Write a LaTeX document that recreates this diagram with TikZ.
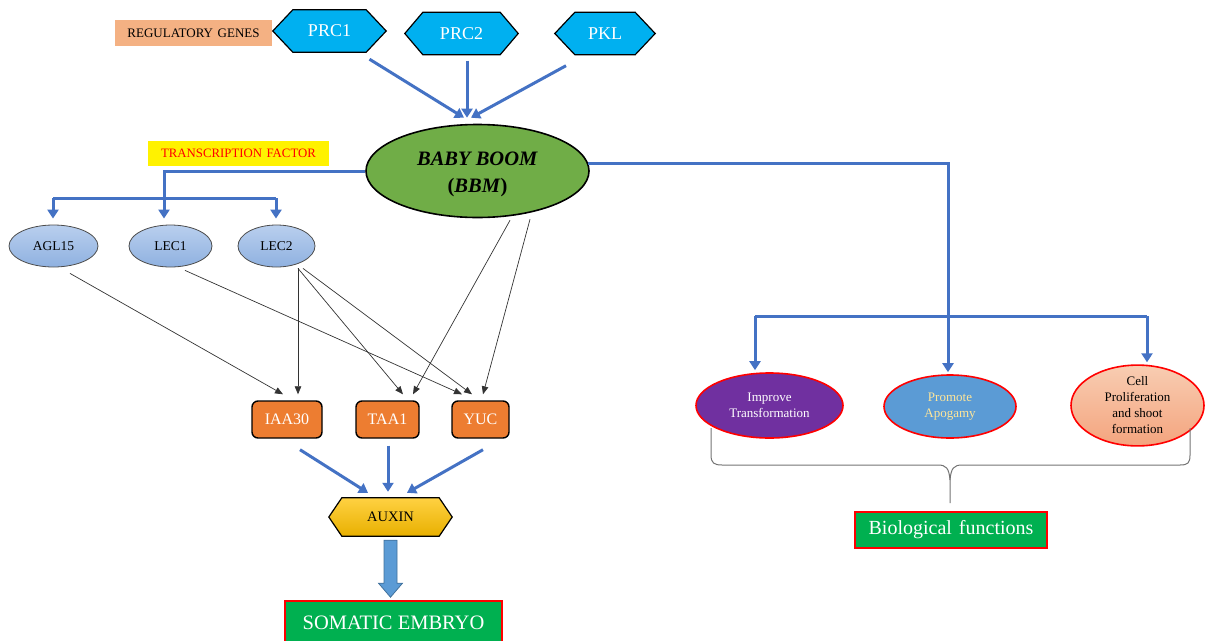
\documentclass[tikz,border=0pt]{standalone}
\usepackage{fontspec}
\setmainfont{Liberation Serif}
\usetikzlibrary{arrows.meta,calc,shapes.geometric}
\pgfdeclarelayer{background}
\pgfsetlayers{background,main}
\definecolor{hexblue}{HTML}{00B0F0}
\definecolor{arrblue}{HTML}{4472C4}
\definecolor{bbmgreen}{HTML}{70AD47}
\definecolor{salmon}{HTML}{F4B183}
\definecolor{orng}{HTML}{ED7D31}
\definecolor{grn}{HTML}{00B050}
\definecolor{purp}{HTML}{7030A0}
\definecolor{midblue}{HTML}{5B9BD5}
\definecolor{darkblue}{HTML}{41719C}
\definecolor{paleyel}{HTML}{FFE699}
\definecolor{lbtop}{HTML}{B9CFEE}
\definecolor{lbbot}{HTML}{8FB1E0}
\definecolor{autop}{HTML}{FFD142}
\definecolor{aubot}{HTML}{E8B000}
\definecolor{satop}{HTML}{F8CDB2}
\definecolor{sabot}{HTML}{F4A47E}
\newcommand\hexbg[3]{%
  \path[#3] (#1.west) -- ([xshift=#2]#1.north west) -- ([xshift=-#2]#1.north east)
    -- (#1.east) -- ([xshift=-#2]#1.south east) -- ([xshift=#2]#1.south west) -- cycle;}
\begin{document}
\begin{tikzpicture}[x=1pt,y=-1pt,
  hexnode/.style={rectangle, minimum height=42pt, inner sep=0pt, text=white,
    font=\fontsize{18}{20}\selectfont},
  regbox/.style={rectangle, fill=salmon, minimum width=157pt, minimum height=26pt,
    inner sep=0pt, font=\fontsize{13}{15}\selectfont},
  tfbox/.style={rectangle, fill=yellow, text=red, minimum width=181pt, minimum height=25pt,
    inner sep=0pt, font=\fontsize{12.8}{15}\selectfont},
  bbmnode/.style={ellipse, draw=black, line width=1.6pt, fill=bbmgreen,
    minimum width=223pt, minimum height=93pt, inner sep=0pt, align=center,
    font=\fontsize{20.5}{27}\selectfont},
  tfnode/.style={ellipse, draw=black!70, line width=0.8pt, top color=lbtop, bottom color=lbbot,
    minimum height=42pt, inner sep=0pt, font=\fontsize{13.5}{15}\selectfont},
  genebox/.style={rectangle, rounded corners=6pt, draw=black, line width=1.4pt, fill=orng,
    text=white, minimum height=37pt, inner sep=0pt, font=\fontsize{16}{18}\selectfont},
  auxnode/.style={rectangle, minimum width=123pt, minimum height=38pt, inner sep=0pt,
    font=\fontsize{14.5}{16}\selectfont},
  greenbox/.style={rectangle, draw=red, line width=1.6pt, fill=grn, text=white, inner sep=0pt},
  funcnode/.style={ellipse, draw=red, line width=1.6pt, inner sep=0pt, align=center,
    font=\fontsize{13}{16}\selectfont},
  bline/.style={draw=arrblue, line width=3pt},
  barrow/.style={draw=arrblue, line width=3pt, -{Triangle[length=9pt,width=11pt]}},
  tarrow/.style={draw=black!80, line width=0.7pt, -{Triangle[length=8pt,width=6.5pt]}},
  bigarrow/.style={draw=darkblue, line width=0.8pt, fill=midblue},
  brace/.style={draw=black!55, line width=1pt}
]
\useasboundingbox (0,0) rectangle (1206,640);

% top row
\node[regbox] (reg) at (193.5,33) {REGULATORY\hspace{0.35em}GENES};
\node[hexnode, minimum width=113pt] (prc1) at (329.5,31) {PRC1};
\node[hexnode, minimum width=113pt] (prc2) at (461.5,33.5) {PRC2};
\node[hexnode, minimum width=100pt] (pkl) at (605,33.5) {PKL};

% BBM
\node[bbmnode] (bbm) at (477.5,171) {\rule{0pt}{20pt}\textbf{\textit{BABY BOOM}}\\\textbf{(\textit{BBM})}};
\node[tfbox] (tf) at (238.5,153.5) {TRANSCRIPTION\hspace{0.35em}FACTOR};

% transcription factors
\node[tfnode, minimum width=89pt] (agl) at (53.5,246) {AGL15};
\node[tfnode, minimum width=83pt] (lec1) at (170.5,246) {LEC1};
\node[tfnode, minimum width=77pt] (lec2) at (276.5,246) {LEC2};

% genes
\node[genebox, minimum width=70pt] (iaa) at (287,419.5) {IAA30};
\node[genebox, minimum width=63pt] (taa) at (387.5,419.5) {TAA1};
\node[genebox, minimum width=57pt] (yuc) at (480.5,419.5) {YUC};

% auxin and embryo
\node[auxnode] (aux) at (390.5,517) {AUXIN};
\node[greenbox, minimum width=217pt, minimum height=44pt, font=\fontsize{20.5}{22}\selectfont]
  (som) at (393.5,623) {SOMATIC EMBRYO};

% functions
\node[funcnode, fill=purp, text=white, minimum width=147pt, minimum height=65pt]
  (imp) at (769.5,405.5) {Improve\\Transformation};
\node[funcnode, fill=midblue, text=paleyel, minimum width=132pt, minimum height=63pt]
  (apo) at (950,406.5) {Promote\\Apogamy};
\node[funcnode, top color=satop, bottom color=sabot, text=black, minimum width=133pt, minimum height=65pt]
  (cell) at (1137.5,405.5) {Cell\\Proliferation\\and shoot\\formation};
\node[greenbox, minimum width=192pt, minimum height=36pt, font=\fontsize{20}{22}\selectfont]
  (bf) at (951,530) {Biological\hspace{0.35em}functions};

% hexagon backgrounds
\begin{pgfonlayer}{background}
  \hexbg{prc1}{20}{draw=black, line width=1.2pt, fill=hexblue}
  \hexbg{prc2}{18}{draw=black, line width=1.2pt, fill=hexblue}
  \hexbg{pkl}{20}{draw=black, line width=1.2pt, fill=hexblue}
  \hexbg{aux}{13}{draw=black, line width=1.2pt, top color=autop, bottom color=aubot}
\end{pgfonlayer}

% regulatory arrows
\draw[barrow] ([shift={(40,7)}]prc1.south) -- ([shift={(-13.5,-6)}]bbm.north);
\draw[barrow] ([shift={(5.5,6)}]prc2.south) -- ([shift={(-10.5,-6)}]bbm.north);
\draw[barrow] ([shift={(-39,11)}]pkl.south) -- ([shift={(-6.5,-6)}]bbm.north);

% transcription factor branch
\coordinate (tfj) at (164,171);
\coordinate (barL) at (53,198);
\coordinate (barR) at (276,198);
\draw[barrow, shorten >=6pt] (bbm.west) -- (tfj) -- (tfj |- lec1.north);
\draw[bline] (barL) -- (barR);
\draw[barrow, shorten >=6pt] (barL) -- (barL |- agl.north);
\draw[barrow, shorten >=6pt] (barR) -- (barR |- lec2.north);

% thin arrows
\draw[tarrow] ([shift={(16.5,6)}]agl.south) -- ([shift={(-4,-6)}]iaa.north);
\draw[tarrow] ([shift={(14.5,3)}]lec1.south) -- ([shift={(-18.5,-6)}]yuc.north);
\draw[tarrow] ([shift={(21.5,1)}]lec2.south) -- ([shift={(11,-6)}]iaa.north);
\draw[tarrow] ([shift={(21.5,1)}]lec2.south) -- ([shift={(15.5,-6)}]taa.north);
\draw[tarrow] ([shift={(26.5,1)}]lec2.south) -- ([shift={(-8.5,-6)}]yuc.north);
\draw[tarrow] ([shift={(32.5,2)}]bbm.south) -- ([shift={(25.5,-6)}]taa.north);
\draw[tarrow] ([shift={(52.5,1)}]bbm.south) -- ([shift={(2.5,-6)}]yuc.north);

% to auxin
\draw[barrow] ([shift={(13,11)}]iaa.south) -- ([shift={(-22.5,-5)}]aux.north);
\draw[barrow] ([shift={(0.5,7)}]taa.south) -- ([shift={(-2.5,-6)}]aux.north);
\draw[barrow] ([shift={(2.5,11)}]yuc.south) -- ([shift={(16.5,-5)}]aux.north);

% big arrow to somatic embryo
\draw[bigarrow] ([shift={(-6.5,4)}]aux.south) -- ++(0,43) -- ++(-5.5,0) -- ++(12,14)
  -- ++(12,-14) -- ++(-5.5,0) -- ++(0,-43) -- cycle;

% functions branch
\coordinate (rj) at (948,163);
\coordinate (bL) at (755,316);
\coordinate (bR) at (1147,316);
\draw[barrow, shorten >=2pt] (bbm.4) -- (bbm.4 -| rj) -- (rj |- apo.north);
\draw[bline] (bL) -- (bR);
\draw[barrow, shorten >=2pt] (bL) -- (bL |- imp.north);
\draw[barrow, shorten >=2pt] (bR) -- (bR |- cell.north);

% brace
\draw[brace] (711,428) -- (711,455) .. controls (711,463) and (714,465) .. (722,465)
  -- (938,465) .. controls (946,465) and (949,468) .. (950,480) -- (950,503);
\draw[brace] (950,480) .. controls (951,468) and (954,465) .. (962,465)
  -- (1180,465) .. controls (1188,465) and (1190,463) .. (1190,455) -- (1190,428);
\end{tikzpicture}
\end{document}
